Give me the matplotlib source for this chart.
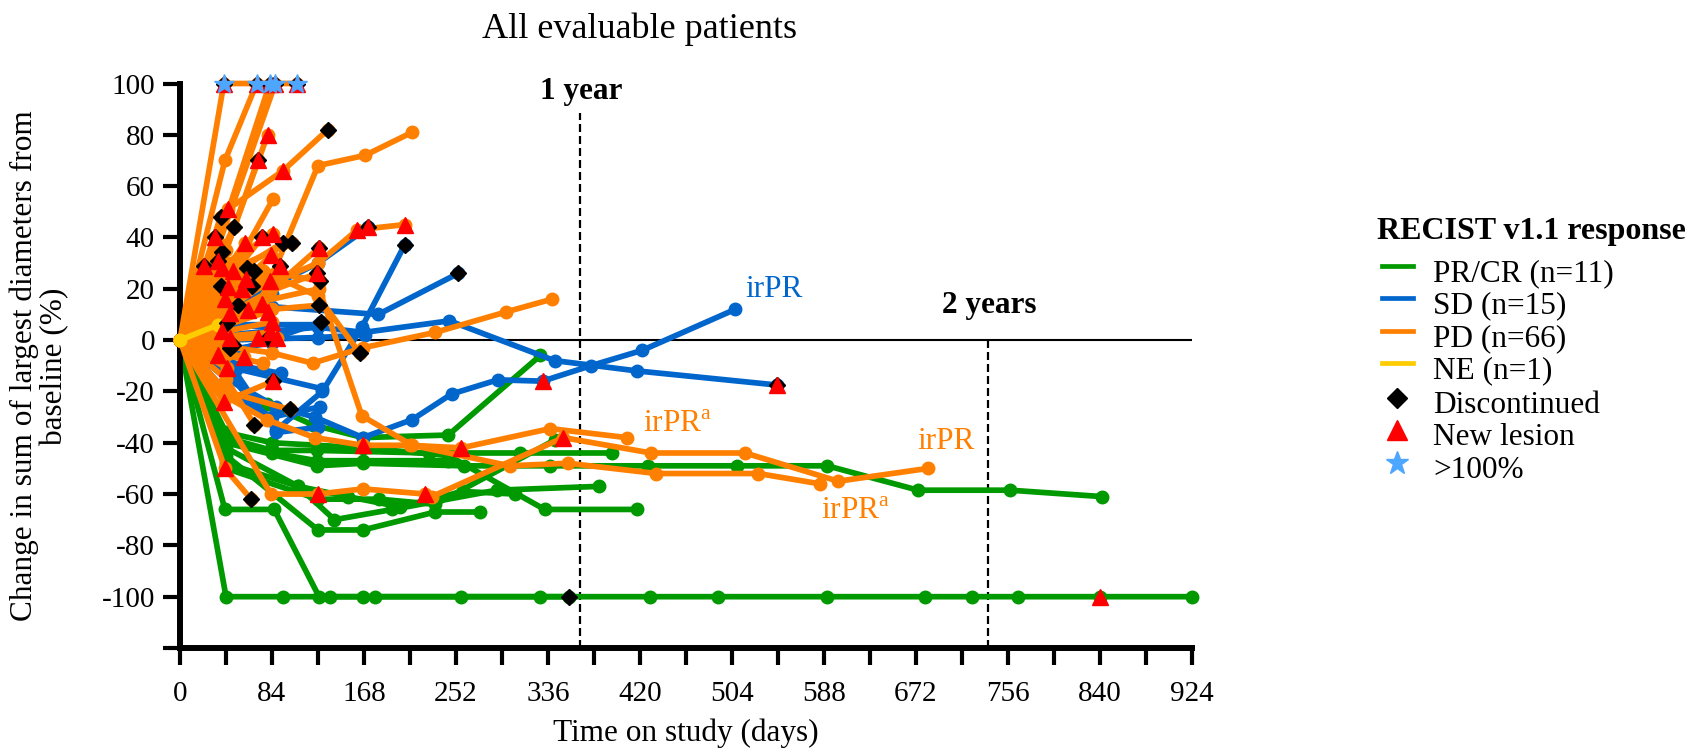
import matplotlib
matplotlib.use('Agg')
import matplotlib.pyplot as plt
from matplotlib.lines import Line2D

plt.rcParams['font.family'] = ['Liberation Serif', 'DejaVu Serif']
plt.rcParams['mathtext.fontset'] = 'custom'
plt.rcParams['mathtext.rm'] = 'Liberation Serif'

# ---------------- data (day, % change) ----------------
pr_cr_lines = [
    [(0, 0), (41, -66), (86, -66), (127, -100), (178, -100), (329, -100), (429, -100), (491, -100),
     (591, -100), (680, -100), (723, -100), (765, -100), (840, -100), (924, -100)],
    [(0, 0), (42, -100), (94, -100), (137, -100), (167, -100), (257, -100), (355, -100)],
    [(0, 0), (42, -45), (126, -74), (167, -74), (233, -67), (274, -67)],
    [(0, 0), (42, -42), (108, -57), (141, -70), (194, -66), (289, -58.5), (383, -57)],
    [(0, 0), (79, -25), (121, -33), (167, -38), (245, -37), (329, -6)],
    [(0, 0), (42, -38), (84, -43), (125, -43), (227, -44), (310, -44), (394, -44)],
    [(0, 0), (42, -40), (125, -49), (167, -48), (259, -49), (338, -49), (427, -49), (509, -49),
     (591, -49), (674, -58.5), (758, -58.5), (842, -61)],
    [(0, 0), (42, -36), (84, -40), (167, -42), (245, -45), (333, -66), (417, -66)],
    [(0, 0), (42, -48), (108, -57), (153, -61), (201, -65), (258, -59), (306, -60)],
    [(0, 0), (42, -50), (126, -62), (182, -62), (233, -64), (342, -39)],
    [(0, 0), (42, -38), (84, -44), (125, -47), (167, -47), (245, -47)],
]

sd_lines = [
    [(0, 0), (42, -15), (88, -26), (123, -30), (167, -38), (212, -31), (248, -21), (290, -15.5),
     (331, -16), (375, -10), (422, -4), (507, 12)],
    [(0, 0), (42, 2), (126, 5), (168, 3), (246, 7.5), (342, -8), (417, -12), (545, -17.5)],
    [(0, 0), (42, 12), (126, 30), (172, 44)],
    [(0, 0), (42, -12), (88, -35), (130, -20), (166, 5), (205, 37)],
    [(0, 0), (42, 10), (84, 13), (181, 10), (254, 26)],
    [(0, 0), (42, 0), (126, 1), (169, 2)],
    [(0, 0), (50, -12), (88, -36), (126, -34)],
    [(0, 0), (40, -10), (130, -19)],
    [(0, 0), (46, -5), (129, 7)],
    [(0, 0), (42, 3), (84, 18)],
    [(0, 0), (42, -20), (84, -30), (128, -26)],
    [(0, 0), (42, -4), (84, -1)],
    [(0, 0), (42, 6), (84, 5)],
    [(0, 0), (42, 6), (126, 6)],
    [(0, 0), (56, -10), (92, -13)],
]

pd_lines = [
    [(0, 0), (40, 100), (107, 100)],
    [(0, 0), (41, 70), (70, 100)],
    [(0, 0), (30, 32), (82, 100)],
    [(0, 0), (36, 38), (87, 100)],
    [(0, 0), (42, 35), (80, 80)],
    [(0, 0), (38, 30), (71, 70)],
    [(0, 0), (44, 51), (94, 66), (135, 82)],
    [(0, 0), (84, 25), (126, 68), (169, 72), (212, 81)],
    [(0, 0), (42, 22), (85, 55)],
    [(0, 0), (42, 15), (126, 30), (162, 43), (205, 45)],
    [(0, 0), (84, -5), (121, -9), (167, -3), (233, 3), (298, 11), (340, 16)],
    [(0, 0), (76, 27), (126, 17), (164, -5)],
    [(0, 0), (42, 12), (127, 20), (166, -29.5), (212, -41), (301, -49), (354, -48), (435, -52),
     (528, -52), (584, -56)],
    [(0, 0), (42, -22), (79, -31), (123, -38), (167, -41), (210, -41), (257, -42), (338, -34.5),
     (408, -38)],
    [(0, 0), (83, -60), (126, -60), (167, -58), (224, -60), (230, -61), (350, -38), (430, -44),
     (516, -44), (601, -55), (683, -50)],
    [(0, 0), (41, -50), (65, -62)],
    [(0, 0), (40, -24), (85, -16)],
    [(0, 0), (42, -20), (100, -27)],
    [(0, 0), (42, -15), (68, -33)],
    [(0, 0), (37, 48)], [(0, 0), (49, 44)], [(0, 0), (32, 40)], [(0, 0), (59, 38)],
    [(0, 0), (75, 40)], [(0, 0), (42, 30), (85, 41.5)], [(0, 0), (45, 25), (94, 38)],
    [(0, 0), (50, 28), (102, 38)], [(0, 0), (79, 18), (127, 36)], [(0, 0), (22, 29)],
    [(0, 0), (35, 31)], [(0, 0), (38, 28)], [(0, 0), (48, 27)], [(0, 0), (60, 24)],
    [(0, 0), (83, 33)], [(0, 0), (91, 29)], [(0, 0), (82, 19), (125, 26)], [(0, 0), (44, 20.5)],
    [(0, 0), (57, 20)], [(0, 0), (82, 23)], [(0, 0), (41, 16)], [(0, 0), (46, 10.5)],
    [(0, 0), (62, 11.6)], [(0, 0), (75, 14)], [(0, 0), (80, 11)], [(0, 0), (84, 7)],
    [(0, 0), (38, 3.5)], [(0, 0), (46, 1)], [(0, 0), (71, 1)], [(0, 0), (82, 3)],
    [(0, 0), (89, 1)], [(0, 0), (35, -6)], [(0, 0), (46, -3)], [(0, 0), (58, -6.6)],
    [(0, 0), (43, -11)], [(0, 0), (38, 34.5)], [(0, 0), (61, 28)], [(0, 0), (68, 27)],
    [(0, 0), (37, 21)], [(0, 0), (66, 21)], [(0, 0), (76, 27), (128, 23)], [(0, 0), (53, 13.5)],
    [(0, 0), (84, 12), (127, 13.6)], [(0, 0), (43, 6.6)], [(0, 0), (48, -2)],
    [(0, 0), (42, 8), (82, 19)], [(0, 0), (42, -6), (76, -9)],
]

ne_lines = [
    [(0, 0), (35, 6)],
]

discontinued = [
    (40, 100), (70, 100), (82, 100), (87, 100), (107, 100),
    (135, 82), (71, 70), (164, -5), (65, -62), (85, -16), (100, -27), (68, -33),
    (37, 48), (49, 44), (32, 40), (75, 40), (94, 38), (102, 38), (127, 36), (22, 29), (35, 31),
    (91, 29), (125, 26), (38, 34.5), (61, 28), (68, 27), (37, 21), (66, 21), (128, 23),
    (53, 13.5), (127, 13.6), (129, 7), (43, 6.6), (80, 1), (48, -2), (46, -3),
    (172, 44), (205, 37), (254, 26), (545, -17.5), (355, -100),
]

new_lesion = [
    (40, 100), (70, 100), (82, 100), (87, 100), (107, 100),
    (80, 80), (71, 70), (44, 51), (94, 66), (162, 43), (205, 45), (172, 44), (32, 40), (59, 38),
    (75, 40), (85, 41.5), (127, 36), (22, 29), (35, 31), (38, 28), (48, 27), (60, 24), (83, 33),
    (91, 29), (125, 26), (44, 20.5), (57, 20), (82, 23), (41, 16), (46, 10.5), (62, 11.6),
    (75, 14), (80, 11), (84, 7), (38, 3.5), (46, 1), (71, 1), (82, 3), (89, 1), (35, -6),
    (58, -6.6), (43, -11), (40, -24), (85, -16), (41, -50), (167, -41), (257, -42), (126, -60),
    (224, -60), (350, -38), (331, -16), (545, -17.5), (840, -100),
]

over_100 = [(40, 100), (70, 100), (82, 100), (87, 100), (107, 100)]

x_ticks = list(range(0, 925, 84))
x_minor = list(range(42, 925, 84))
y_ticks = list(range(-120, 101, 20))
y_ticklabels = ['' if v == -120 else str(v) for v in y_ticks]

legend_labels = ['PR/CR (n=11)', 'SD (n=15)', 'PD (n=66)', 'NE (n=1)',
                 'Discontinued', 'New lesion', '>100%']

# ---------------- style ----------------
SERIF = ['Liberation Serif', 'DejaVu Serif']
GREEN = '#009900'
BLUE = '#0066cc'
ORANGE = '#ff8000'
YELLOW = '#ffcc00'
RED = '#ff0000'
STARC = '#4da6ff'
LW = 4.1
MS = 9

W, H = 1690, 752
fig = plt.figure(figsize=(W / 100, H / 100), dpi=100)
ax = fig.add_axes([180 / W, 1 - 648 / H, 1012 / W, 564.5 / H])


def draw(lines, color, z):
    for pts in lines:
        d = [p[0] for p in pts]
        v = [p[1] for p in pts]
        ax.plot(d, v, color=color, lw=LW, marker='o', ms=MS, mec=color, mfc=color,
                zorder=z, clip_on=False, solid_joinstyle='round', solid_capstyle='round')


# reference lines
ax.plot([0, 924], [0, 0], color='black', lw=1.5, zorder=1)
ax.plot([365, 365], [-120, 88.4], color='black', lw=1.6, dashes=(3.6, 1.8), zorder=1.2)
ax.plot([738, 738], [-120, 0], color='black', lw=1.6, dashes=(3.6, 1.8), zorder=1.2)

draw(pr_cr_lines, GREEN, 2)
draw(sd_lines, BLUE, 3)
draw(pd_lines, ORANGE, 4)
draw(ne_lines, YELLOW, 5)

ax.plot([p[0] for p in discontinued], [p[1] for p in discontinued], linestyle='none',
        marker='D', ms=8, color='black', zorder=10, clip_on=False)
ax.plot([p[0] for p in new_lesion], [p[1] for p in new_lesion], linestyle='none',
        marker='^', ms=11, color=RED, mec=RED, zorder=11, clip_on=False)
ax.plot([p[0] for p in over_100], [p[1] for p in over_100], linestyle='none',
        marker='*', ms=15, color=STARC, mec=STARC, zorder=12, clip_on=False)

# annotations
FS = 22.5
ax.text(366, 93.8, '1 year', fontsize=FS, fontweight='bold', ha='center', va='baseline',
        family=SERIF)
ax.text(739, 10.5, '2 years', fontsize=FS, fontweight='bold', ha='center', va='baseline',
        family=SERIF)
ax.text(516, 16.7, 'irPR', color=BLUE, fontsize=FS, ha='left', va='baseline', family=SERIF)
ax.text(423, -35.7, 'irPR$^{\\mathrm{a}}$', color=ORANGE, fontsize=FS, ha='left', va='baseline',
        family=SERIF)
ax.text(673, -42.6, 'irPR', color=ORANGE, fontsize=FS, ha='left', va='baseline', family=SERIF)
ax.text(585, -69.8, 'irPR$^{\\mathrm{a}}$', color=ORANGE, fontsize=FS, ha='left', va='baseline',
        family=SERIF)

# axes
ax.set_xlim(0, 924)
ax.set_ylim(-120, 100)
for s in ['top', 'right']:
    ax.spines[s].set_visible(False)
for s in ['left', 'bottom']:
    ax.spines[s].set_linewidth(4.3)
ax.set_xticks(x_ticks)
ax.set_xticks(x_minor, minor=True)
ax.set_xticklabels([str(v) for v in x_ticks])
ax.set_yticks(y_ticks)
ax.set_yticklabels(y_ticklabels)
ax.tick_params(which='both', length=12, width=3, direction='out', labelsize=21)
ax.tick_params(axis='x', pad=12)
ax.tick_params(axis='y', pad=6)
for lbl in ax.get_xticklabels() + ax.get_yticklabels():
    lbl.set_family(SERIF)
ax.set_xlabel('Time on study (days)', fontsize=FS, labelpad=8, family=SERIF)

fig.text(39 / W, 1 - 366 / H, 'Change in sum of largest diameters from\nbaseline (%)',
         rotation=90, ha='center', va='center', fontsize=FS, linespacing=1.05, family=SERIF)
fig.text(640 / W, 1 - 38 / H, 'All evaluable patients', ha='center', va='baseline', fontsize=26,
         family=SERIF)

# legend (manual)
fig.text(1377 / W, 1 - 239 / H, 'RECIST v1.1 response', fontsize=23, fontweight='bold',
         ha='left', va='baseline', family=SERIF)
handle_y = [266, 298, 331, 363, 398, 430, 463]
colors = [GREEN, BLUE, ORANGE, YELLOW]
for i, lab in enumerate(legend_labels):
    y = 1 - handle_y[i] / H
    if i < 4:
        fig.add_artist(Line2D([1382 / W, 1413 / W], [y, y], color=colors[i], lw=3.4,
                              transform=fig.transFigure))
    elif i == 4:
        fig.add_artist(Line2D([1397 / W], [y], marker='D', ms=10, color='black', linestyle='none',
                              transform=fig.transFigure))
    elif i == 5:
        fig.add_artist(Line2D([1397 / W], [y], marker='^', ms=14, color=RED, linestyle='none',
                              transform=fig.transFigure))
    else:
        fig.add_artist(Line2D([1397 / W], [y], marker='*', ms=17, color=STARC, linestyle='none',
                              transform=fig.transFigure))
    fig.text(1433 / W, 1 - (handle_y[i] + 15) / H, lab, fontsize=FS, ha='left', va='baseline',
             family=SERIF)

fig.savefig('out.png', dpi=100)
